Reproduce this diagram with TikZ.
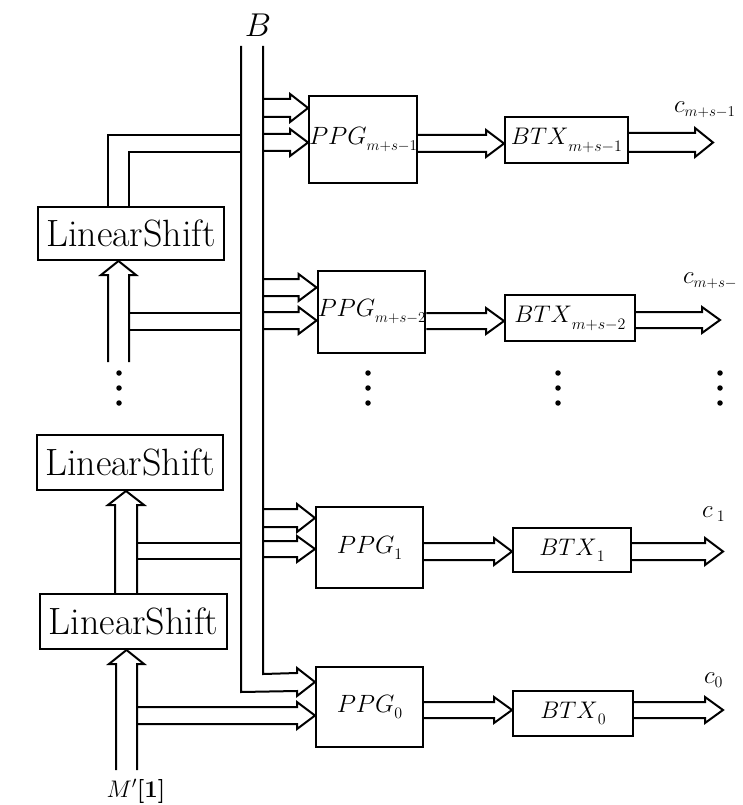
\RequirePackage{fix-cm}
\documentclass[tikz,border=0pt]{standalone}
\usepackage{graphicx}
\usetikzlibrary{calc}
\tikzset{
  ln/.style={line width=2pt, line join=miter},
  blk/.style={draw, line width=2pt, inner sep=0pt},
  ppgbox/.style={blk, font=\fontsize{25}{28}\selectfont},
  btxbox/.style={blk, font=\fontsize{24}{28}\selectfont},
  lsbox/.style={blk, minimum width=186pt, font=\fontsize{38}{40}\selectfont},
  dotc/.style={circle, fill, inner sep=0pt, minimum size=5.5pt},
  lbl/.style={inner sep=0pt},
}
% subscript of given size, lowered
\newcommand{\lowsub}[3]{\raisebox{-#2pt}{\fontsize{#1}{#1}\selectfont$#3$}}
% horizontal hollow arrow: #1 start (x used), #2 tip, #3 half width
\newcommand{\harr}[3]{%
  \draw[ln] let \p1=(#1), \p2=(#2) in
    (\x1,\y2+#3pt) -- (\x2-18pt,\y2+#3pt) -- (\x2-18pt,\y2+#3pt+5pt) -- (\p2)
    -- (\x2-18pt,\y2-#3pt-5pt) -- (\x2-18pt,\y2-#3pt) -- (\x1,\y2-#3pt);}
% vertical hollow arrow pointing up: #1 start (y used), #2 tip, #3 half width
\newcommand{\varr}[3]{%
  \draw[ln] let \p1=(#1), \p2=(#2) in
    (\x2-#3pt,\y1) -- (\x2-#3pt,\y2-14pt) -- (\x2-#3pt-7pt,\y2-14pt) -- (\p2)
    -- (\x2+#3pt+7pt,\y2-14pt) -- (\x2+#3pt,\y2-14pt) -- (\x2+#3pt,\y1);}
\begin{document}
\begin{tikzpicture}[x=1pt,y=-1pt]
\useasboundingbox (0,0) rectangle (742,805);

% PPG boxes
\node[ppgbox, minimum width=106pt, minimum height=87pt] (p1) at (363,139.5) {$PPG$\lowsub{15}{6}{m{+}s{-}1}};
\node[ppgbox, minimum width=107pt, minimum height=82pt] (p2) at (371.5,312) {$PPG$\lowsub{15}{6}{m{+}s{-}2}};
\node[ppgbox, minimum width=107pt, minimum height=81pt] (p3) at (369.5,547.5) {$PPG$\lowsub{16}{6}{1}};
\node[ppgbox, minimum width=107pt, minimum height=80pt] (p4) at (369.5,707) {$PPG$\lowsub{16}{6}{0}};

% BTX boxes
\node[btxbox, minimum width=123pt, minimum height=46pt] (t1) at (566.5,140) {$BTX$\lowsub{16}{7}{m{+}s{-}1}};
\node[btxbox, minimum width=130pt, minimum height=46pt] (t2) at (570,318) {$BTX$\lowsub{16}{7}{m{+}s{-}2}};
\node[btxbox, minimum width=118pt, minimum height=44pt] (t3) at (572,550) {$BTX$\lowsub{16}{6}{1}};
\node[btxbox, minimum width=120pt, minimum height=45pt] (t4) at (573,713.5) {$BTX$\lowsub{16}{6}{0}};

% LinearShift boxes
\node[lsbox, minimum height=53pt] (l1) at (131,233.5) {LinearShift};
\node[lsbox, minimum height=55pt] (l2) at (130,462.5) {LinearShift};
\node[lsbox, minimum width=187pt, minimum height=55pt] (l3) at (133.5,621.5) {LinearShift};

% labels
\node[lbl, font=\fontsize{33}{34}\selectfont] (Blab) at (258,25) {$B$};
\node[lbl, font=\fontsize{24}{25}\selectfont] (Mlab) at (136,791) {$M'$\textbf{[1]}};
\node[lbl, anchor=west, font=\fontsize{25}{26}\selectfont] (c1) at (674,110) {$c$\lowsub{15}{4}{m{+}s{-}1}};
\node[lbl, anchor=west, font=\fontsize{25}{26}\selectfont] (c2) at (683,281) {$c$\lowsub{15}{4}{m{+}s{-}}};
\node[lbl, anchor=west, font=\fontsize{25}{26}\selectfont] (c3) at (702,514) {$c$\,\lowsub{16}{4}{1}};
\node[lbl, anchor=west, font=\fontsize{25}{26}\selectfont] (c4) at (704,680) {$c$\lowsub{16}{4}{0}};

% bus B
\coordinate (bL) at (241,46);
\coordinate (bR) at (263,46);
\coordinate (bLc) at (241,692);
\coordinate (bRc) at (263,674);
\draw[ln] let \p1=($(p4.north west)+(0,16)$) in
  (bR) -- (bRc) -- (\x1-18pt,\y1+9pt) -- (\x1-18pt,\y1+14pt) -- (\p1)
  -- (\x1-18pt,\y1-14pt) -- (\x1-18pt,\y1-9pt) -- (bLc) -- (bL);

% bus taps into PPG boxes
\harr{bR}{$(p1.north west)+(0,13)$}{9}
\harr{bR}{$(p1.north west)+(0,47.5)$}{8.5}
\harr{bR}{$(p2.north west)+(0,17.5)$}{8.5}
\harr{bR}{$(p2.north west)+(0,50.5)$}{8.5}
\harr{bR}{$(p3.north west)+(0,12)$}{9}
\harr{bR}{$(p3.north west)+(0,43)$}{8}

% LinearShift outputs to the bus
\draw[ln] (108,207) -- (108,135) -- (bL |- 0,135);
\draw[ln] (129,207) -- (129,152) -- (bL |- 0,152);
\draw[ln] (129,313) -- (bL |- 0,313);
\draw[ln] (129,330) -- (bL |- 0,330);
\draw[ln] (137,543) -- (bL |- 0,543);
\draw[ln] (137,559) -- (bL |- 0,559);

% vertical arrows into LinearShift boxes
\coordinate (s1) at (118.5,362);
\coordinate (s2) at (126,0);
\coordinate (m1) at (126.5,770);
\varr{s1}{s1 |- l1.south}{10.5}
\varr{s2 |- l3.north}{s2 |- l2.south}{11}
\varr{m1}{m1 |- l3.south}{10.5}

% M'[1] tap into PPG0
\harr{137,0}{$(p4.north west)+(0,49.5)$}{8.5}

% PPG -> BTX
\harr{p1.east}{$(t1.west)+(0,3.5)$}{8.5}
\harr{p2.east}{$(t2.west)+(0,3)$}{8}
\harr{p3.east}{$(t3.west)+(0,1.5)$}{8.5}
\harr{p4.east}{$(t4.west)+(0,-3.5)$}{8}

% BTX outputs
\coordinate (o1) at (713,142.5);
\coordinate (o2) at (720,320);
\coordinate (o3) at (723,551.5);
\coordinate (o4) at (723,710);
\harr{t1.east}{o1}{9.5}
\harr{t2.east}{o2}{8}
\harr{t3.east}{o3}{8.5}
\harr{t4.east}{o4}{8}

% ellipsis dots
\foreach \cx [count=\i] in {119,368,558,720}
  \foreach \cy [count=\j] in {373,388,403}
    \node[dotc] (d\i\j) at (\cx,\cy) {};
\end{tikzpicture}
\end{document}
